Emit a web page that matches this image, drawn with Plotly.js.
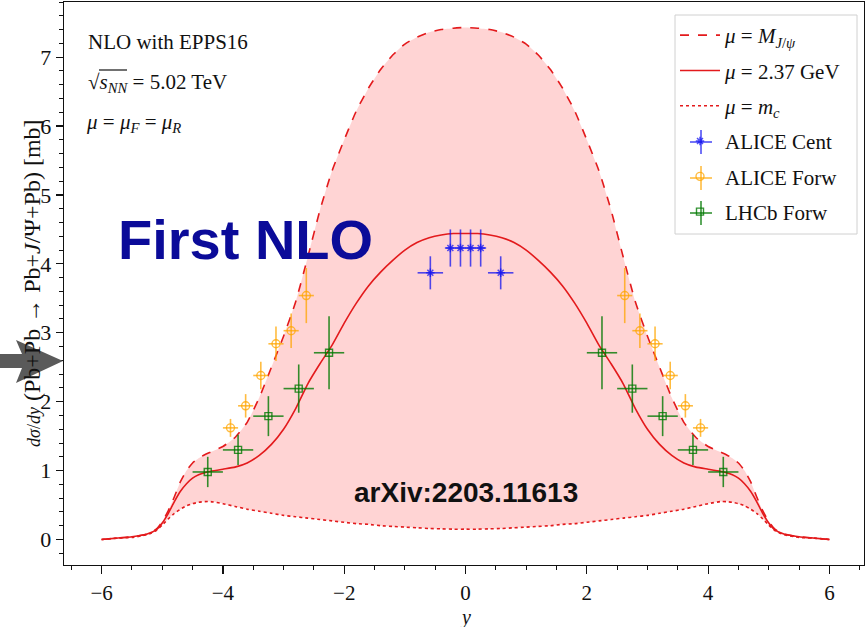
<!DOCTYPE html>
<html>
<head>
<meta charset="utf-8">
<script src="https://cdn.plot.ly/plotly-3.0.1.min.js"></script>
<style>html,body{margin:0;padding:0;background:#fff;}#chart{width:866px;height:627px;}</style>
</head>
<body>
<div id="chart"></div>
<script>
// ---- data ----
const rapidity = [-6,-5.75,-5.5,-5.25,-5.1,-5.0,-4.9,-4.8,-4.7,-4.6,-4.5,-4.4,-4.3,-4.2,-4.0,-3.8,-3.6,-3.4,-3.2,-3.0,-2.8,-2.6,-2.4,-2.2,-2.0,-1.8,-1.6,-1.4,-1.2,-1.0,-0.8,-0.6,-0.4,-0.2,0,
  0.2,0.4,0.6,0.8,1.0,1.2,1.4,1.6,1.8,2.0,2.2,2.4,2.6,2.8,3.0,3.2,3.4,3.6,3.8,4.0,4.2,4.3,4.4,4.5,4.6,4.7,4.8,4.9,5.0,5.1,5.25,5.5,5.75,6];
const muMJpsi = [0.00,0.02,0.04,0.08,0.15,0.26,0.42,0.62,0.84,1.00,1.11,1.18,1.23,1.27,1.35,1.48,1.70,2.06,2.50,2.95,3.45,4.10,4.78,5.35,5.80,6.22,6.55,6.82,7.03,7.19,7.29,7.36,7.40,7.42,7.43,
  7.42,7.40,7.36,7.29,7.19,7.03,6.82,6.55,6.22,5.80,5.35,4.78,4.10,3.45,2.95,2.50,2.06,1.70,1.48,1.35,1.27,1.23,1.18,1.11,1.00,0.84,0.62,0.42,0.26,0.15,0.08,0.04,0.02,0.00];
const mu237 = [0.00,0.02,0.04,0.08,0.14,0.24,0.38,0.55,0.70,0.81,0.89,0.94,0.97,0.99,1.02,1.05,1.11,1.22,1.38,1.60,1.90,2.26,2.55,2.82,3.14,3.43,3.68,3.88,4.05,4.20,4.31,4.38,4.42,4.44,4.44,
  4.44,4.42,4.38,4.31,4.20,4.05,3.88,3.68,3.43,3.14,2.82,2.55,2.26,1.90,1.60,1.38,1.22,1.11,1.05,1.02,0.99,0.97,0.94,0.89,0.81,0.70,0.55,0.38,0.24,0.14,0.08,0.04,0.02,0.00];
const muMc = [0.00,0.02,0.03,0.07,0.13,0.21,0.30,0.38,0.44,0.49,0.52,0.54,0.55,0.55,0.52,0.48,0.44,0.41,0.38,0.35,0.33,0.31,0.29,0.27,0.25,0.23,0.22,0.20,0.19,0.18,0.17,0.16,0.155,0.15,0.15,
  0.15,0.155,0.16,0.17,0.18,0.19,0.20,0.22,0.23,0.25,0.27,0.29,0.31,0.33,0.35,0.38,0.41,0.44,0.48,0.52,0.55,0.55,0.54,0.52,0.49,0.44,0.38,0.30,0.21,0.13,0.07,0.03,0.02,0.00];

const aliceCentX = [-0.58,-0.25,-0.083,0.083,0.25,0.58];
const aliceCentY = [3.87,4.23,4.23,4.23,4.23,3.87];
const aliceCentEy = [0.24,0.27,0.27,0.27,0.27,0.24];
const aliceCentEx = [0.21,0.09,0.09,0.09,0.09,0.21];

const aliceForwX = [-3.875,-3.625,-3.375,-3.125,-2.875,-2.625,2.625,2.875,3.125,3.375,3.625,3.875];
const aliceForwY = [1.62,1.94,2.38,2.84,3.03,3.54,3.54,3.03,2.84,2.38,1.94,1.62];
const aliceForwEy = [0.13,0.17,0.20,0.25,0.25,0.40,0.40,0.25,0.25,0.20,0.17,0.13];
const aliceForwEx = [0.125,0.125,0.125,0.125,0.125,0.125,0.125,0.125,0.125,0.125,0.125,0.125];

const lhcbX = [-4.25,-3.75,-3.25,-2.75,-2.25,2.25,2.75,3.25,3.75,4.25];
const lhcbY = [0.98,1.30,1.79,2.19,2.71,2.71,2.19,1.79,1.30,0.98];
const lhcbEy = [0.22,0.22,0.29,0.35,0.53,0.53,0.35,0.29,0.22,0.22];
const lhcbEx = [0.25,0.25,0.25,0.25,0.25,0.25,0.25,0.25,0.25,0.25];

const xTicks = [-6,-4,-2,0,2,4,6];
const yTicks = [0,1,2,3,4,5,6,7];

// ---- layout helpers (pixel -> paper) ----
const L = 64, R = 864, T = 2, B = 565;
const px = x => (x - L) / (R - L);
const py = y => (B - y) / (B - T);

const SERIF = "Liberation Serif, DejaVu Serif, serif";
const RED = "#e31a1c";
const BLUE = "rgba(20,20,240,0.75)";
const ORANGE = "rgba(255,165,0,0.75)";
const GREEN = "rgba(0,120,0,0.8)";

const traces = [
  {x: rapidity, y: muMc, mode: "lines", line: {width: 0, shape: "spline", smoothing: 0.5}, showlegend: false, hoverinfo: "skip"},
  {x: rapidity, y: muMJpsi, mode: "lines", fill: "tonexty", fillcolor: "rgba(255,0,0,0.17)", line: {width: 0, shape: "spline", smoothing: 0.5}, showlegend: false, hoverinfo: "skip"},
  {x: rapidity, y: muMJpsi, mode: "lines", name: "<i>μ</i> = <i>M</i><sub><i>J</i>/<i>ψ</i></sub>", legendgroup: "a",
   line: {color: RED, width: 1.6, dash: "dash", shape: "spline", smoothing: 0.5}},
  {x: rapidity, y: mu237, mode: "lines", name: "<i>μ</i> = 2.37 GeV", legendgroup: "b",
   line: {color: RED, width: 1.6, shape: "spline", smoothing: 0.5}},
  {x: rapidity, y: muMc, mode: "lines", name: "<i>μ</i> = <i>m<sub>c</sub></i>", legendgroup: "c",
   line: {color: RED, width: 1.6, dash: "dot", shape: "spline", smoothing: 0.5}},
  {x: aliceCentX, y: aliceCentY, mode: "markers", name: "ALICE Cent", legendgroup: "d",
   marker: {symbol: "asterisk-open", size: 7, color: BLUE, line: {width: 1.5, color: BLUE}},
   error_y: {type: "data", array: aliceCentEy, color: BLUE, thickness: 1.6, width: 0},
   error_x: {type: "data", array: aliceCentEx, color: BLUE, thickness: 1.6, width: 0}},
  {x: aliceForwX, y: aliceForwY, mode: "markers", name: "ALICE Forw", legendgroup: "e",
   marker: {symbol: "circle-open", size: 8, color: ORANGE, line: {width: 1.4}},
   error_y: {type: "data", array: aliceForwEy, color: ORANGE, thickness: 1.6, width: 0},
   error_x: {type: "data", array: aliceForwEx, color: ORANGE, thickness: 1.6, width: 0}},
  {x: lhcbX, y: lhcbY, mode: "markers", name: "LHCb Forw", legendgroup: "f",
   marker: {symbol: "square-open", size: 7, color: GREEN, line: {width: 1.4}},
   error_y: {type: "data", array: lhcbEy, color: GREEN, thickness: 1.6, width: 0},
   error_x: {type: "data", array: lhcbEx, color: GREEN, thickness: 1.6, width: 0}}
];

// legend error-bar crosses (decoration drawn behind the transparent legend)
function legendCross(cx, cy, color) {
  return [
    {type: "line", xref: "paper", yref: "paper", layer: "above", x0: px(cx - 11), x1: px(cx + 11), y0: py(cy), y1: py(cy), line: {color: color, width: 1.6}},
    {type: "line", xref: "paper", yref: "paper", layer: "above", x0: px(cx), x1: px(cx), y0: py(cy - 12), y1: py(cy + 12), line: {color: color, width: 1.6}}
  ];
}

const annFont = {family: SERIF, size: 21, color: "#111"};
const layout = {
  width: 866, height: 627,
  margin: {l: L, r: 866 - R, t: T, b: 627 - B},
  paper_bgcolor: "#fff", plot_bgcolor: "#fff",
  showlegend: true,
  font: {family: SERIF, size: 20, color: "#111"},
  xaxis: {
    range: [-6.62, 6.57], tickvals: xTicks, ticks: "outside", ticklen: 8, tickwidth: 1.2, tickcolor: "#111",
    minor: {dtick: 0.5, ticks: "outside", ticklen: 4, tickcolor: "#111", tickwidth: 1},
    showline: true, linecolor: "#111", linewidth: 1.3, mirror: true, showgrid: false, zeroline: false,
    tickfont: {family: SERIF, size: 21, color: "#111"}
  },
  yaxis: {
    range: [-0.37, 7.8], tickvals: yTicks, ticks: "outside", ticklen: 7, tickwidth: 1.2, tickcolor: "#111",
    minor: {dtick: 0.2, ticks: "outside", ticklen: 4, tickcolor: "#111", tickwidth: 1},
    showline: true, linecolor: "#111", linewidth: 1.3, mirror: true, showgrid: false, zeroline: false,
    tickfont: {family: SERIF, size: 22, color: "#111"}
  },
  legend: {
    x: px(675), y: py(15), xanchor: "left", yanchor: "top",
    bgcolor: "rgba(0,0,0,0)", borderwidth: 0,
    traceorder: "grouped", tracegroupgap: 5, itemwidth: 40,
    font: {family: SERIF, size: 21, color: "#111"}
  },
  annotations: [
    {xref: "paper", yref: "paper", x: px(465), y: py(617), xanchor: "center", yanchor: "middle", showarrow: false,
     text: "<i>y</i>", font: {family: SERIF, size: 20, color: "#111"}},
    {xref: "paper", yref: "paper", x: px(32), y: py(283), xanchor: "center", yanchor: "middle", showarrow: false, textangle: -90,
     text: "<span style='font-size:18px'><i>dσ</i>/<i>dy</i></span> (Pb+Pb → Pb+<i>J</i>/Ψ+Pb) [mb]", font: {family: SERIF, size: 24, color: "#111"}},
    {xref: "paper", yref: "paper", x: px(86), y: py(42), xanchor: "left", yanchor: "middle", showarrow: false,
     text: "NLO with EPPS16", font: annFont},
    {xref: "paper", yref: "paper", x: px(86), y: py(83), xanchor: "left", yanchor: "middle", showarrow: false,
     text: "√<i>s<sub>NN</sub></i> = 5.02 TeV", font: annFont},
    {xref: "paper", yref: "paper", x: px(84), y: py(123), xanchor: "left", yanchor: "middle", showarrow: false,
     text: "<i>μ</i> = <i>μ<sub>F</sub></i> = <i>μ<sub>R</sub></i>", font: annFont},
    {xref: "paper", yref: "paper", x: px(245), y: py(239), xanchor: "center", yanchor: "middle", showarrow: false,
     text: "<b>First NLO</b>", font: {family: "Liberation Sans, Arial, sans-serif", size: 56, color: "#0b0b99"}},
    {xref: "paper", yref: "paper", x: px(466), y: py(492), xanchor: "center", yanchor: "middle", showarrow: false,
     text: "<b>arXiv:2203.11613</b>", font: {family: "Liberation Sans, Arial, sans-serif", size: 28, color: "#111"}}
  ],
  shapes: [
    // legend frame
    {type: "rect", xref: "paper", yref: "paper", layer: "above", x0: px(675), x1: px(857), y0: py(15), y1: py(234),
     fillcolor: "#fff", line: {color: "#d0d0d0", width: 1}},
    ...legendCross(701, 142, BLUE),
    ...legendCross(701, 178, ORANGE),
    ...legendCross(701, 213, GREEN),
    // vinculum of the square root
    {type: "line", xref: "paper", yref: "paper", x0: px(99), x1: px(127), y0: py(70), y1: py(70), line: {color: "#111", width: 1.2}},
    // grey arrow
    {type: "path", xref: "paper", yref: "paper", fillcolor: "#5a5a5a", line: {width: 0}, layer: "above",
     path: "M " + px(0) + " " + py(354) + " L " + px(22) + " " + py(354) + " L " + px(16) + " " + py(340) +
           " L " + px(63) + " " + py(361) + " L " + px(16) + " " + py(383) + " L " + px(22) + " " + py(368) +
           " L " + px(0) + " " + py(368) + " Z"}
  ]
};

Plotly.newPlot("chart", traces, layout, {displayModeBar: false, staticPlot: true});
</script>
</body>
</html>
